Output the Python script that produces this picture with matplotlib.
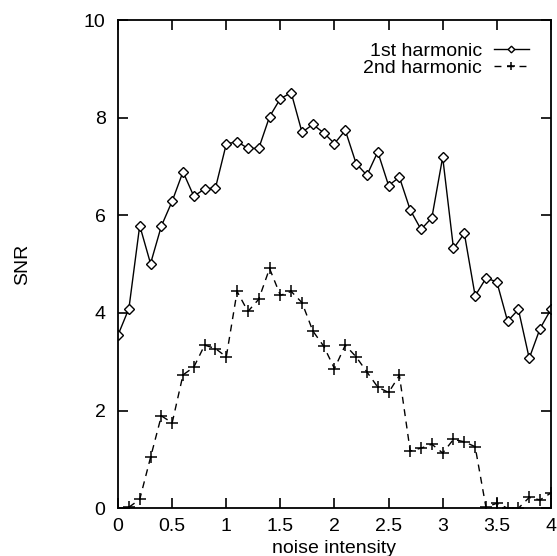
import numpy as np
import matplotlib
matplotlib.use('Agg')
from matplotlib import pyplot as plt

plt.rcParams['font.family'] = ['Liberation Sans', 'DejaVu Sans']

# noise intensity
x1 = np.round(np.arange(0, 4.01, 0.1), 1)
snr1 = [3.55, 4.09, 5.79, 5.01, 5.78, 6.29, 6.89, 6.39, 6.54, 6.56,
        7.46, 7.51, 7.37, 7.37, 8.02, 8.39, 8.51, 7.70, 7.86, 7.69,
        7.47, 7.74, 7.06, 6.82, 7.30, 6.61, 6.78, 6.11, 5.71, 5.95,
        7.19, 5.32, 5.63, 4.35, 4.71, 4.64, 3.83, 4.07, 3.07, 3.68,
        4.07]

x2 = np.round(np.arange(0.1, 4.01, 0.1), 1)
snr2 = [0.02, 0.18, 1.04, 1.89, 1.75, 2.73, 2.89, 3.34, 3.27, 3.10,
        4.44, 4.03, 4.28, 4.91, 4.36, 4.44, 4.21, 3.63, 3.32, 2.86,
        3.34, 3.10, 2.79, 2.48, 2.37, 2.72, 1.17, 1.23, 1.31, 1.13,
        1.41, 1.36, 1.26, 0.02, 0.10, 0.0, 0.0, 0.22, 0.17, 0.31]

fig = plt.figure(figsize=(5.57, 5.56), dpi=100)
ax = fig.add_axes([0.212, 0.086, 0.777, 0.878])

ax.plot(x1, snr1, color='black', lw=1, marker='D', markersize=4.8,
        mfc='white', mec='black', mew=1, label='1st harmonic')
ax.plot(x2, snr2, color='black', lw=1, ls=(0, (5, 4)), marker='+',
        markersize=8, mew=1.1, label='2nd harmonic')

ax.set_xlim(0, 4)
ax.set_ylim(0, 10)
ax.set_xticks([0, 0.5, 1, 1.5, 2, 2.5, 3, 3.5, 4])
ax.set_xticklabels(['0', '0.5', '1', '1.5', '2', '2.5', '3', '3.5', '4'])
ax.set_yticks([0, 2, 4, 6, 8, 10])
ax.tick_params(direction='in', top=True, right=True, length=7, width=1.2,
               labelsize=14)
ax.tick_params(axis='x', pad=7)
ax.tick_params(axis='y', pad=9)
for s in ax.spines.values():
    s.set_linewidth(1.3)

ax.set_xlabel('noise intensity', fontsize=14, labelpad=4)
ax.set_ylabel('SNR', fontsize=14)
ax.yaxis.set_label_coords(-0.2, 0.5)

leg = ax.legend(loc='upper right', frameon=False, markerfirst=False,
                handlelength=1.8, fontsize=14, labelspacing=-0.03,
                borderaxespad=0.75, handletextpad=0.6, markerscale=0.7)

plt.savefig('out.png', dpi=100)
